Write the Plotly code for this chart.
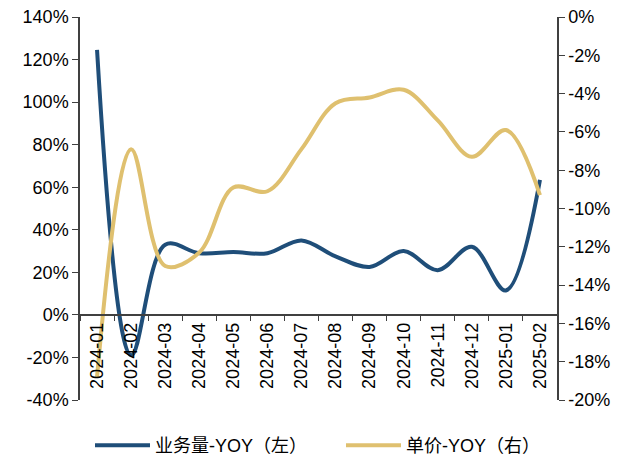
import plotly.graph_objects as go

months = ["2024-01", "2024-02", "2024-03", "2024-04", "2024-05", "2024-06", "2024-07",
          "2024-08", "2024-09", "2024-10", "2024-11", "2024-12", "2025-01", "2025-02"]
volume_yoy = [124.5, -19, 33, 29, 29.5, 29, 35, 27.5, 22.5, 30, 21, 32, 11.5, 63.5]
price_yoy = [-18.8, -6.9, -13.0, -12.3, -8.9, -9.1, -6.9, -4.5, -4.2, -3.8, -5.4, -7.3, -5.9, -9.3]

left_ticks = list(range(-40, 141, 20))
right_ticks = list(range(-20, 1, 2))

BLUE = "#1F4E79"
GOLD = "#DFC06F"
FONT = "Liberation Sans, Arial, Noto Sans CJK SC"

fig = go.Figure()
fig.add_trace(go.Scatter(x=months, y=price_yoy, name="单价-YOY（右）", yaxis="y2",
                         mode="lines", line=dict(color=GOLD, width=4, shape="spline", smoothing=1.0),
                         legend="legend2"))
fig.add_trace(go.Scatter(x=months, y=volume_yoy, name="业务量-YOY（左）", yaxis="y",
                         mode="lines", line=dict(color=BLUE, width=4, shape="spline", smoothing=1.0),
                         legend="legend"))

axis_color = "#404040"
legend_common = dict(orientation="h", xanchor="left", yref="container", xref="container",
                     y=1 - 427 / 456, yanchor="top", font=dict(size=18, family=FONT),
                     itemwidth=55, bgcolor="rgba(0,0,0,0)")
fig.update_layout(
    width=628, height=456,
    margin=dict(l=80, r=71, t=17, b=56, autoexpand=False),
    paper_bgcolor="white", plot_bgcolor="white",
    font=dict(family=FONT, size=18, color="black"),
    showlegend=True,
    legend=dict(x=90 / 628, **legend_common),
    legend2=dict(x=341 / 628, **legend_common),
    xaxis=dict(type="category", categoryorder="array", categoryarray=months,
               range=[-0.5, len(months) - 0.5],
               anchor="free", position=40 / 180, tickangle=-90, automargin=False,
               tickson="boundaries", ticks="outside", ticklen=5, tickcolor=axis_color,
               showline=True, linecolor=axis_color, linewidth=1.5,
               showgrid=False, zeroline=False, tickfont=dict(size=18)),
    yaxis=dict(range=[-40, 140], tickvals=left_ticks, automargin=False,
               ticktext=[f"{v}%" for v in left_ticks],
               ticks="outside", ticklen=6, tickcolor=axis_color,
               showline=True, linecolor=axis_color, linewidth=1.5,
               showgrid=False, zeroline=False, tickfont=dict(size=18)),
    yaxis2=dict(range=[-20, 0], tickvals=right_ticks, automargin=False,
                ticktext=[f"{v}%" for v in right_ticks],
                overlaying="y", side="right", anchor="x",
                ticks="outside", ticklen=6, tickcolor=axis_color,
                showline=True, linecolor=axis_color, linewidth=1.5,
                showgrid=False, zeroline=False, tickfont=dict(size=18)),
)

fig.write_html("out.html", config={"displayModeBar": False},
               post_script="document.body.style.margin='0';document.body.style.overflow='hidden';")
